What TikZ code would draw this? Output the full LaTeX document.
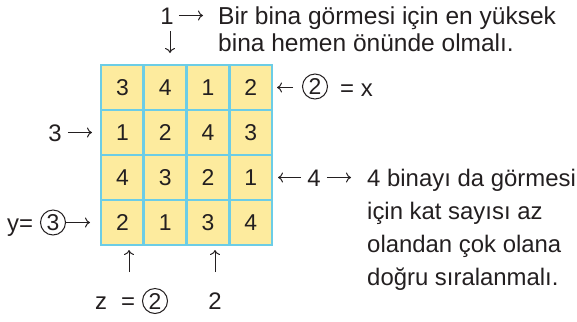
\documentclass[tikz,border=0pt]{standalone}
\usepackage{fontspec}
\setmainfont{Liberation Sans}
\usetikzlibrary{positioning,arrows.meta}
\definecolor{cellfill}{HTML}{FDEB9E}
\definecolor{cellline}{HTML}{6CCDE6}
\definecolor{ink}{HTML}{231F20}

\tikzset{
  cell/.style={draw=cellline,fill=cellfill,line width=2.8bp,minimum width=42.75bp,
    minimum height=45bp,inner sep=0pt,font=\fontsize{23}{23}\selectfont,text=ink},
  lbl/.style={inner sep=0pt,font=\fontsize{24}{33}\selectfont,text=ink},
  toplbl/.style={lbl,font=\fontsize{24.6}{33}\selectfont},
  arr/.style={-{Computer Modern Rightarrow[length=5bp,width=10bp]},line width=1bp,draw=ink},
  ring/.style={circle,draw=ink,line width=1bp,minimum size=25bp,inner sep=0pt,
    font=\fontsize{23}{23}\selectfont,text=ink},
}

\begin{document}
\begin{tikzpicture}[x=1bp,y=-1bp]
  \useasboundingbox (0,0) rectangle (577,321);
  % grid of buildings
  \foreach \row [count=\r] in {{3,4,1,2},{1,2,4,3},{4,3,2,1},{2,1,3,4}} {
    \foreach \v [count=\c] in \row {
      \node[cell] (c\r\c) at ({101+42.75*(\c-0.5)},{65+45*(\r-0.5)}) {\v};
    }
  }

  % top clue
  \node[lbl,anchor=base] (topone) at (167,24) {1};
  \coordinate (toparr) at (203,15.5);
  \draw[arr,shorten <=5bp] (topone.east |- toparr) -- (toparr);
  \node[toplbl,anchor=base west] (toptxt) at (218,24) {Bir bina görmesi için en yüksek};
  \node[toplbl,anchor=base west] (toptxtb) at (218,51) {bina hemen önünde olmalı.};
  \coordinate (downs) at (170,31);
  \coordinate (downe) at (170,53);
  \draw[arr] (downs) -- (downe);

  % right clues
  \node[ring] (xring) at (315,86.5) {2};
  \node[lbl,anchor=base west] (xeq) at (340,96) {= x};
  \coordinate (xarr) at (277,87.5);
  \draw[arr,shorten <=9bp] (xring.west |- xarr) -- (xarr);

  \node[lbl,anchor=base] (rfour) at (314,186) {4};
  \coordinate (rfourl) at (278,177.5);
  \coordinate (rfourr) at (351,177.5);
  \draw[arr,shorten <=6bp] (rfour.west |- rfourl) -- (rfourl);
  \draw[arr,shorten <=6bp] (rfour.east |- rfourr) -- (rfourr);
  \foreach \t [count=\i] in {4 binayı da görmesi,için kat sayısı az,olandan çok olana,doğru sıralanmalı.} {
    \node[lbl,anchor=base west] (note\i) at (367,{153+33*\i}) {\t};
  }

  % left clues
  \node[lbl,anchor=base] (lthree) at (55,141) {3};
  \coordinate (lthreea) at (92,132.5);
  \draw[arr,shorten <=6bp] (lthree.east |- lthreea) -- (lthreea);
  \node[lbl,anchor=base west] (ylbl) at (7,231) {y=};
  \node[ring] (yring) at (53,222.5) {3};
  \coordinate (yarr) at (90,222.5);
  \draw[arr] (yring.east) -- (yarr);

  % bottom clues
  \node[lbl,anchor=base west] (zlbl) at (95,309.5) {z};
  \node[lbl,anchor=base west] (zeq) at (121,309.5) {=};
  \node[ring] (zring) at (155,301) {2};
  \node[lbl,anchor=base] (btwo) at (215,309.5) {2};
  \coordinate (zup) at (129,250);
  \coordinate (zbot) at (129,272);
  \coordinate (twoup) at (215,250);
  \draw[arr] (zbot) -- (zup);
  \draw[arr] (btwo.north |- zbot) -- (twoup);
\end{tikzpicture}
\end{document}
